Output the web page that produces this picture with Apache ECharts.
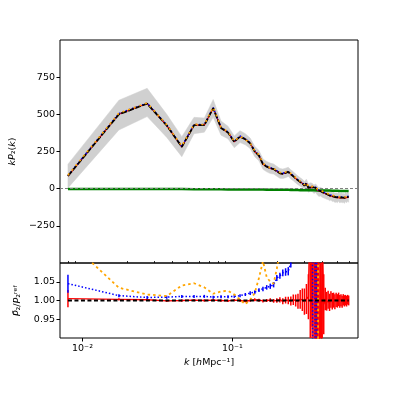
<!DOCTYPE html>
<html>
<head>
<meta charset="utf-8">
<script src="https://cdn.jsdelivr.net/npm/echarts@6/dist/echarts.min.js"></script>
<style>
  html, body { margin: 0; padding: 0; background: #fff; }
  #chart { width: 398px; height: 398px; }
</style>
</head>
<body>
<div id="chart"></div>
<script>
// k bins [h/Mpc]
const kVals = [0.008, 0.0175, 0.027, 0.0365, 0.046, 0.0555, 0.065, 0.0745, 0.084, 0.0935,
  0.103, 0.1125, 0.122, 0.1315, 0.141, 0.1505, 0.16, 0.1695, 0.179, 0.1885,
  0.198, 0.2075, 0.217, 0.2265, 0.236, 0.2455, 0.255, 0.2645, 0.274, 0.2835,
  0.293, 0.3025, 0.312, 0.3215, 0.331, 0.3405, 0.35, 0.3595, 0.369, 0.3785,
  0.388, 0.3975, 0.407, 0.4165, 0.426, 0.4355, 0.445, 0.4545, 0.464, 0.4735,
  0.483, 0.4925, 0.502, 0.5115, 0.521, 0.5305, 0.54, 0.5495, 0.559, 0.5685,
  0.578, 0.5875, 0.597];

// kP2(k), reference (black dashed)
const pkRef = [85, 500, 572, 425, 281, 427, 427, 542, 408, 378,
  315, 350, 332, 305, 250, 222, 165, 148, 137, 132,
  117, 103, 100, 106, 113, 96, 84, 68, 56, 45,
  36, 20, 36, 5, 12, 10, -2, 6, -10, -20,
  -17, -24, -28, -32, -36, -38, -46, -42, -50, -47,
  -56, -52, -58, -46, -60, -52, -58, -55, -62, -50,
  -58, -48, -55];
const pkRed = [85, 501, 573, 424, 281, 427, 427, 542, 408, 378,
  315, 350, 332, 305, 250, 222, 165, 148, 137, 132,
  117, 103, 100, 106, 113, 96, 84, 68, 56, 45,
  36, 20, 36, 5, 12, 10, -2, 6, -11, -21,
  -18, -25, -29, -33, -37, -39, -47, -43, -52, -49,
  -58, -54, -60, -48, -62, -54, -60, -57, -64, -52,
  -60, -50, -57];
const pkBlue = [88, 506, 576, 429, 284, 431, 431, 546, 412, 382,
  318, 354, 336, 309, 254, 226, 169, 152, 141, 136,
  121, 107, 104, 110, 117, 100, 88, 72, 60, 49,
  40, 24, 40, 9, 16, 14, 2, 10, -6, -16,
  -13, -20, -24, -28, -32, -34, -42, -38, -46, -43,
  -52, -48, -54, -42, -56, -48, -54, -51, -58, -46,
  -54, -44, -51];
const pkOrange = [91, 508, 577, 429, 287, 433, 431, 547, 413, 383,
  318, 352, 330, 306, 254, 228, 172, 152, 141, 136,
  122, 109, 106, 112, 119, 102, 90, 74, 62, 51,
  42, 26, 42, 11, 18, 16, 4, 12, -4, -14,
  -11, -18, -22, -26, -30, -32, -40, -36, -44, -41,
  -50, -46, -52, -40, -54, -46, -52, -49, -56, -44,
  -52, -42, -49];
const pkGreen = [-2, -2, -3, -3, -3, -4, -4, -4, -4, -5,
  -5, -5, -5, -6, -6, -6, -6, -7, -7, -7,
  -7, -8, -8, -8, -8, -9, -9, -9, -9, -10,
  -10, -10, -10, -11, -11, -11, -11, -11, -12, -12,
  -12, -12, -12, -13, -13, -13, -13, -13, -14, -14,
  -14, -14, -14, -14, -15, -15, -15, -15, -15, -15,
  -16, -16, -16];
// spread of the realisations (grey band)
const bandLo = [5, 395, 485, 345, 215, 370, 380, 480, 360, 335,
  275, 310, 295, 270, 215, 187, 130, 113, 102, 98,
  84, 70, 68, 74, 82, 65, 54, 38, 27, 16,
  8, -8, 8, -24, -17, -19, -32, -25, -42, -52,
  -50, -58, -62, -66, -71, -73, -81, -77, -86, -84,
  -93, -89, -95, -83, -97, -89, -95, -92, -99, -87,
  -95, -85, -92];
const bandHi = [165, 595, 675, 500, 350, 480, 475, 600, 455, 420,
  355, 390, 370, 340, 285, 257, 200, 183, 172, 166,
  150, 136, 132, 138, 144, 127, 114, 98, 85, 74,
  64, 48, 64, 32, 39, 37, 25, 32, 16, 6,
  9, 2, -3, -7, -11, -13, -21, -17, -25, -22,
  -31, -27, -33, -21, -35, -27, -33, -30, -37, -25,
  -33, -23, -30];

// ratios to the reference (lower panel)
const ratioRed = [1.005, 1.003, 1.002, 0.999, 1.000, 1.001, 1.000, 1.001, 1.000, 0.999,
  1.001, 1.000, 0.998, 1.000, 1.002, 1.001, 0.999, 1.000, 1.001, 0.999,
  1.000, 1.002, 0.998, 1.001, 1.000, 0.999, 1.002, 1.000, 0.998, 1.003,
  1.002, 0.997, 1.004, 1.010, 1.25, 0.93, 1.45, 0.65, 1.35, 0.97,
  0.55, 1.18, 0.99, 1.004, 0.998, 1.002, 0.995, 1.003, 0.998, 1.001,
  0.997, 1.002, 0.999, 1.003, 0.998, 1.001, 0.997, 1.002, 0.999, 1.001,
  0.998, 1.002, 1.000];
const errRed = [0.023, 0.003, 0.003, 0.003, 0.003, 0.003, 0.003, 0.003, 0.003, 0.003,
  0.003, 0.003, 0.003, 0.003, 0.004, 0.004, 0.004, 0.004, 0.005, 0.005,
  0.006, 0.007, 0.008, 0.009, 0.010, 0.012, 0.014, 0.016, 0.02, 0.025,
  0.03, 0.035, 0.04, 0.06, 0.6, 0.4, 1.0, 0.8, 0.9, 0.2,
  0.9, 0.5, 0.08, 0.03, 0.025, 0.024, 0.023, 0.022, 0.022, 0.02,
  0.02, 0.019, 0.018, 0.018, 0.017, 0.016, 0.016, 0.015, 0.015, 0.014,
  0.014, 0.013, 0.013];
const ratioBlue = [1.045, 1.013, 1.008, 1.009, 1.011, 1.011, 1.011, 1.009, 1.010, 1.010,
  1.011, 1.013, 1.016, 1.020, 1.022, 1.028, 1.031, 1.035, 1.038, 1.042,
  1.060, 1.066, 1.074, 1.076, 1.078, 1.10, 1.14, 1.18, 1.22, 1.28,
  1.35, 1.6, 1.35, 2.5, 1.8, 1.9, -1.2, 2.2, 0.4, 0.2,
  0.4, 0.6, 0.7, 0.75, 0.78, 0.8, 0.82, 0.81, 0.84, 0.83,
  0.85, 0.84, 0.86, 0.82, 0.86, 0.84, 0.85, 0.85, 0.86, 0.83,
  0.85, 0.82, 0.84];
const errBlue = [0.024, 0.004, 0.004, 0.004, 0.004, 0.004, 0.004, 0.004, 0.004, 0.004,
  0.004, 0.004, 0.004, 0.005, 0.005, 0.005, 0.006, 0.006, 0.007, 0.007,
  0.008, 0.008, 0.009, 0.010, 0.011, 0.012, 0.015, 0.02, 0.025, 0.03,
  0.04, 0.05, 0.06, 0.1, 0.3, 0.3, 0.5, 0.5, 0.3, 0.2,
  0.1, 0.08, 0.06, 0.05, 0.05, 0.04, 0.04, 0.04, 0.04, 0.04,
  0.04, 0.04, 0.04, 0.04, 0.04, 0.04, 0.04, 0.04, 0.04, 0.04,
  0.04, 0.04, 0.04];
const ratioOrange = [1.16, 1.034, 1.016, 1.012, 1.04, 1.046, 1.035, 1.018, 1.024, 1.026,
  1.016, 1.002, 0.99, 1.002, 1.02, 1.06, 1.105, 1.062, 1.05, 1.045,
  1.085, 1.13, 1.16, 1.15, 1.14, 1.18, 1.22, 1.28, 1.35, 1.45,
  1.6, 1.9, 1.7, 3.0, 2.5, 2.8, 3.5, 4.0, 5.0, -4.0,
  -1.5, 0.2, 0.4, 0.5, 0.55, 0.6, 0.65, 0.62, 0.68, 0.66,
  0.7, 0.68, 0.72, 0.62, 0.72, 0.68, 0.7, 0.7, 0.72, 0.66,
  0.7, 0.65, 0.68];

// axis ticks
const kMin = 0.00708, kMax = 0.689;
const kMajor = [0.01, 0.1];
const kMinor = [0.008, 0.009, 0.02, 0.03, 0.04, 0.05, 0.06, 0.07, 0.08, 0.09,
  0.2, 0.3, 0.4, 0.5, 0.6];
const pkTicks = [-250, 0, 250, 500, 750];
const ratioTicks = [0.95, 1.00, 1.05];

const FONT = 'DejaVu Sans';
const pair = arr => kVals.map((k, i) => [k, arr[i]]);

function errBars(color, vals, errs) {
  return {
    type: 'custom', xAxisIndex: 1, yAxisIndex: 1, clip: true, z: 3,
    data: kVals.map((k, i) => [k, vals[i] - errs[i], vals[i] + errs[i]]),
    renderItem: (params, api) => {
      const a = api.coord([api.value(0), api.value(1)]);
      const b = api.coord([api.value(0), api.value(2)]);
      return { type: 'line', shape: { x1: a[0], y1: a[1], x2: b[0], y2: b[1] },
        style: { stroke: color, lineWidth: 1.5 } };
    }
  };
}

// grey envelope drawn as one polygon through the axis scales
const bandSeries = {
  type: 'custom', xAxisIndex: 0, yAxisIndex: 0, clip: true, z: 1, silent: true,
  data: [[kVals[0], bandLo[0]]],
  renderItem: (params, api) => {
    const top = kVals.map((k, i) => api.coord([k, bandHi[i]]));
    const bot = kVals.map((k, i) => api.coord([k, bandLo[i]])).reverse();
    return { type: 'polygon', shape: { points: top.concat(bot) },
      style: { fill: '#d0d0d0', stroke: '#d0d0d0', lineWidth: 0.5 } };
  }
};

function line(name, data, color, width, type, xi, z) {
  return {
    name, type: 'line', xAxisIndex: xi, yAxisIndex: xi, data, symbol: 'none', z,
    lineStyle: { color, width, type, cap: 'butt' }, silent: true
  };
}

const chart = echarts.init(document.getElementById('chart'));
chart.setOption({
  animation: false,
  textStyle: { fontFamily: FONT },
  grid: [
    { left: 60, right: 40, top: 40, height: 223, show: true, borderColor: '#000', borderWidth: 1 },
    { left: 60, right: 40, top: 263, height: 75, show: true, borderColor: '#000', borderWidth: 1 }
  ],
  xAxis: [
    { gridIndex: 0, type: 'log', min: kMin, max: kMax,
      axisLine: { show: false }, axisTick: { show: false }, axisLabel: { show: false }, splitLine: { show: false } },
    { gridIndex: 1, type: 'log', min: kMin, max: kMax,
      axisLine: { show: false }, splitLine: { show: false },
      axisTick: { show: true, length: 3.5, customValues: kMajor, lineStyle: { color: '#000', width: 1 } },
      axisLabel: { customValues: kMajor, fontSize: 9.5, color: '#000', margin: 6,
        formatter: v => '10' + (v < 0.05 ? '⁻²' : '⁻¹') },
      name: '{i|k} [{i|h}Mpc⁻¹]', nameLocation: 'middle', nameGap: 20,
      nameTextStyle: { fontSize: 9.5, color: '#000', rich: { i: { fontStyle: 'italic', fontSize: 9.5 } } } },
    { gridIndex: 1, type: 'log', min: kMin, max: kMax,
      axisLine: { show: false }, splitLine: { show: false }, axisLabel: { show: false },
      axisTick: { show: true, length: 2, customValues: kMinor, lineStyle: { color: '#000', width: 0.8 } } }
  ],
  yAxis: [
    { gridIndex: 0, type: 'value', min: -500, max: 1000, interval: 250,
      axisLine: { show: false }, splitLine: { show: false },
      axisTick: { show: true, length: 3.5, customValues: pkTicks, lineStyle: { color: '#000' } },
      axisLabel: { customValues: pkTicks, fontSize: 9.5, color: '#000', margin: 5,
        formatter: v => (v < 0 ? '−' + Math.abs(v) : '' + v) },
      name: '{i|kP}₂({i|k})', nameLocation: 'middle', nameGap: 37, nameRotate: 90,
      nameTextStyle: { fontSize: 9.5, color: '#000', rich: { i: { fontStyle: 'italic', fontSize: 9.5 } } } },
    { gridIndex: 1, type: 'value', min: 0.9, max: 1.1, interval: 0.05,
      axisLine: { show: false }, splitLine: { show: false },
      axisTick: { show: true, length: 3.5, customValues: ratioTicks, lineStyle: { color: '#000' } },
      axisLabel: { customValues: ratioTicks, fontSize: 9.5, color: '#000', margin: 5,
        formatter: v => v.toFixed(2) },
      name: '{i|P̄}₂/{i|P}₂ʳᵉᶠ', nameLocation: 'middle', nameGap: 33, nameRotate: 90,
      nameTextStyle: { fontSize: 9.5, color: '#000', rich: { i: { fontStyle: 'italic', fontSize: 9.5 } } } },
  ],
  series: [
    bandSeries,
    { type: 'line', xAxisIndex: 0, yAxisIndex: 0, data: [], silent: true,
      markLine: { silent: true, symbol: 'none', label: { show: false },
        lineStyle: { color: '#808080', type: [3, 2], width: 1 }, data: [{ yAxis: 0 }] } },
    line('green', pair(pkGreen), '#008000', 2.5, 'solid', 0, 2),
    line('red', pair(pkRed), '#ff0000', 1.2, 'solid', 0, 3),
    line('blue', pair(pkBlue), '#0000ff', 1.5, [1.5, 2], 0, 4),
    line('ref', pair(pkRef), '#000', 1.8, [6, 1.5], 0, 5),
    line('orange', pair(pkOrange), '#ffa500', 1.6, [2, 4], 0, 6),

    // lower panel
    errBars('#ff0000', ratioRed, errRed),
    errBars('#0000ff', ratioBlue, errBlue),
    line('redR', pair(ratioRed), '#ff0000', 1.5, 'solid', 1, 3),
    line('blueR', pair(ratioBlue), '#0000ff', 1.5, [1.5, 2], 1, 4),
    line('orangeR', pair(ratioOrange), '#ffa500', 1.8, [2.5, 3], 1, 5),
    line('refR', kVals.map(k => [k, 1]), '#000', 2, [4, 2.5], 1, 6)
  ]
});
</script>
</body>
</html>
